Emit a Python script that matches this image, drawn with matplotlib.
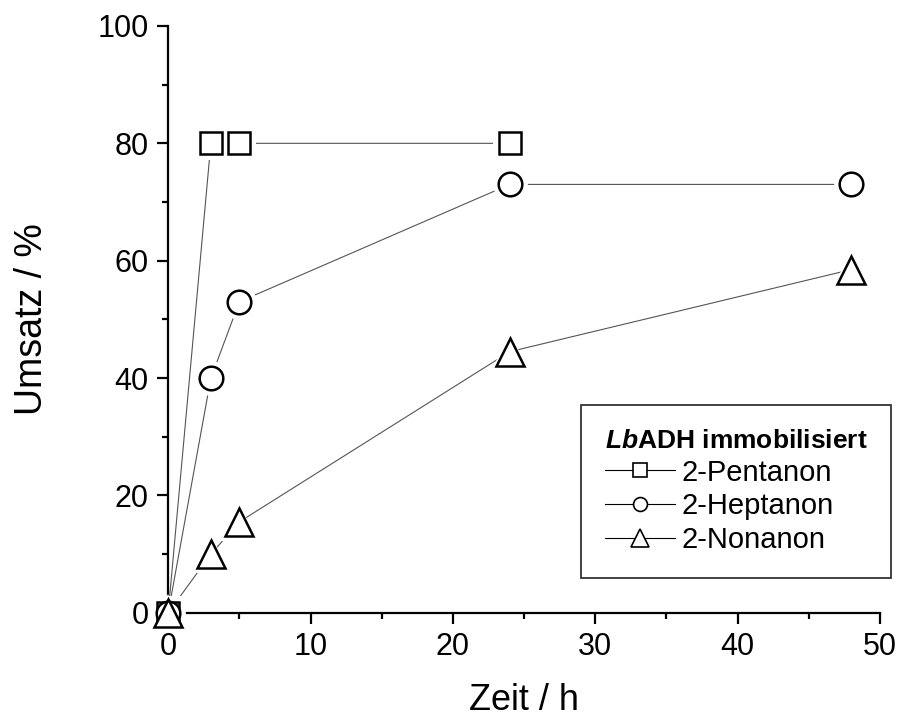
import matplotlib
matplotlib.use("Agg")
import matplotlib.pyplot as plt
from matplotlib.ticker import MultipleLocator
from matplotlib.lines import Line2D

plt.rcParams['font.family'] = ['Liberation Sans', 'DejaVu Sans']
plt.rcParams['mathtext.fontset'] = 'custom'
plt.rcParams['mathtext.bfit'] = 'Liberation Sans:italic:bold'
plt.rcParams['mathtext.rm'] = 'Liberation Sans'

# Messdaten
zeit_pent = [0, 3, 5, 24]
umsatz_pent = [0, 80, 80, 80]
zeit_hept = [0, 3, 5, 24, 48]
umsatz_hept = [0, 40, 53, 73, 73]
zeit_non = [0, 3, 5, 24, 48]
umsatz_non = [0, 10, 15.5, 44.5, 58.5]

namen = ['2-Pentanon', '2-Heptanon', '2-Nonanon']
marker = ['s', 'o', '^']
groesse = [16, 17, 20]
leg_groesse = [10, 10, 13]

fig = plt.figure(figsize=(9.09, 7.21), dpi=100)
ax = fig.add_axes([0.185, 0.150, 0.783, 0.814])

handles = []
for x, y, m, s, ls, n in zip([zeit_pent, zeit_hept, zeit_non],
                             [umsatz_pent, umsatz_hept, umsatz_non],
                             marker, groesse, leg_groesse, namen):
    ax.plot(x, y, color='#555555', lw=0.8, zorder=2, clip_on=False)
    # weisser Rand um die Symbole -> Luecke zur Linie
    ax.plot(x, y, ls='none', marker=m, ms=s + 8, mfc='white', mec='white',
            mew=0, zorder=3, clip_on=False)
    ax.plot(x, y, ls='none', marker=m, ms=s, mfc='white', mec='black',
            mew=1.8, zorder=4, clip_on=False)
    handles.append(Line2D([], [], color='black', lw=0.8, marker=m, ms=ls,
                          mfc='white', mec='black', mew=1.2))

ax.set_xlim(0, 50)
ax.set_ylim(0, 100)
ax.xaxis.set_major_locator(MultipleLocator(10))
ax.xaxis.set_minor_locator(MultipleLocator(5))
ax.yaxis.set_major_locator(MultipleLocator(20))
ax.yaxis.set_minor_locator(MultipleLocator(10))
ax.spines['top'].set_visible(False)
ax.spines['right'].set_visible(False)
for sp in ['left', 'bottom']:
    ax.spines[sp].set_linewidth(1.6)
ax.tick_params(which='major', direction='out', length=8, width=1.6,
               labelsize=22, pad=6)
ax.tick_params(which='minor', direction='out', length=4.5, width=1.6)

ax.set_xlabel('Zeit / h', fontsize=26, labelpad=15)
ax.set_ylabel('Umsatz / %', fontsize=27, labelpad=34)

leg = ax.legend(handles, namen, title=r'$\mathbfit{Lb}$ADH immobilisiert',
                loc='lower right', bbox_to_anchor=(1.015, 0.06), fontsize=21,
                title_fontproperties={'weight': 'bold', 'size': 19},
                frameon=True, fancybox=False, edgecolor='black',
                handlelength=2.4, handletextpad=0.25, borderpad=0.8,
                labelspacing=0.2, borderaxespad=0)
leg.get_frame().set_linewidth(1.3)
leg._legend_box.align = 'left'

fig.savefig('out.png', dpi=100)
